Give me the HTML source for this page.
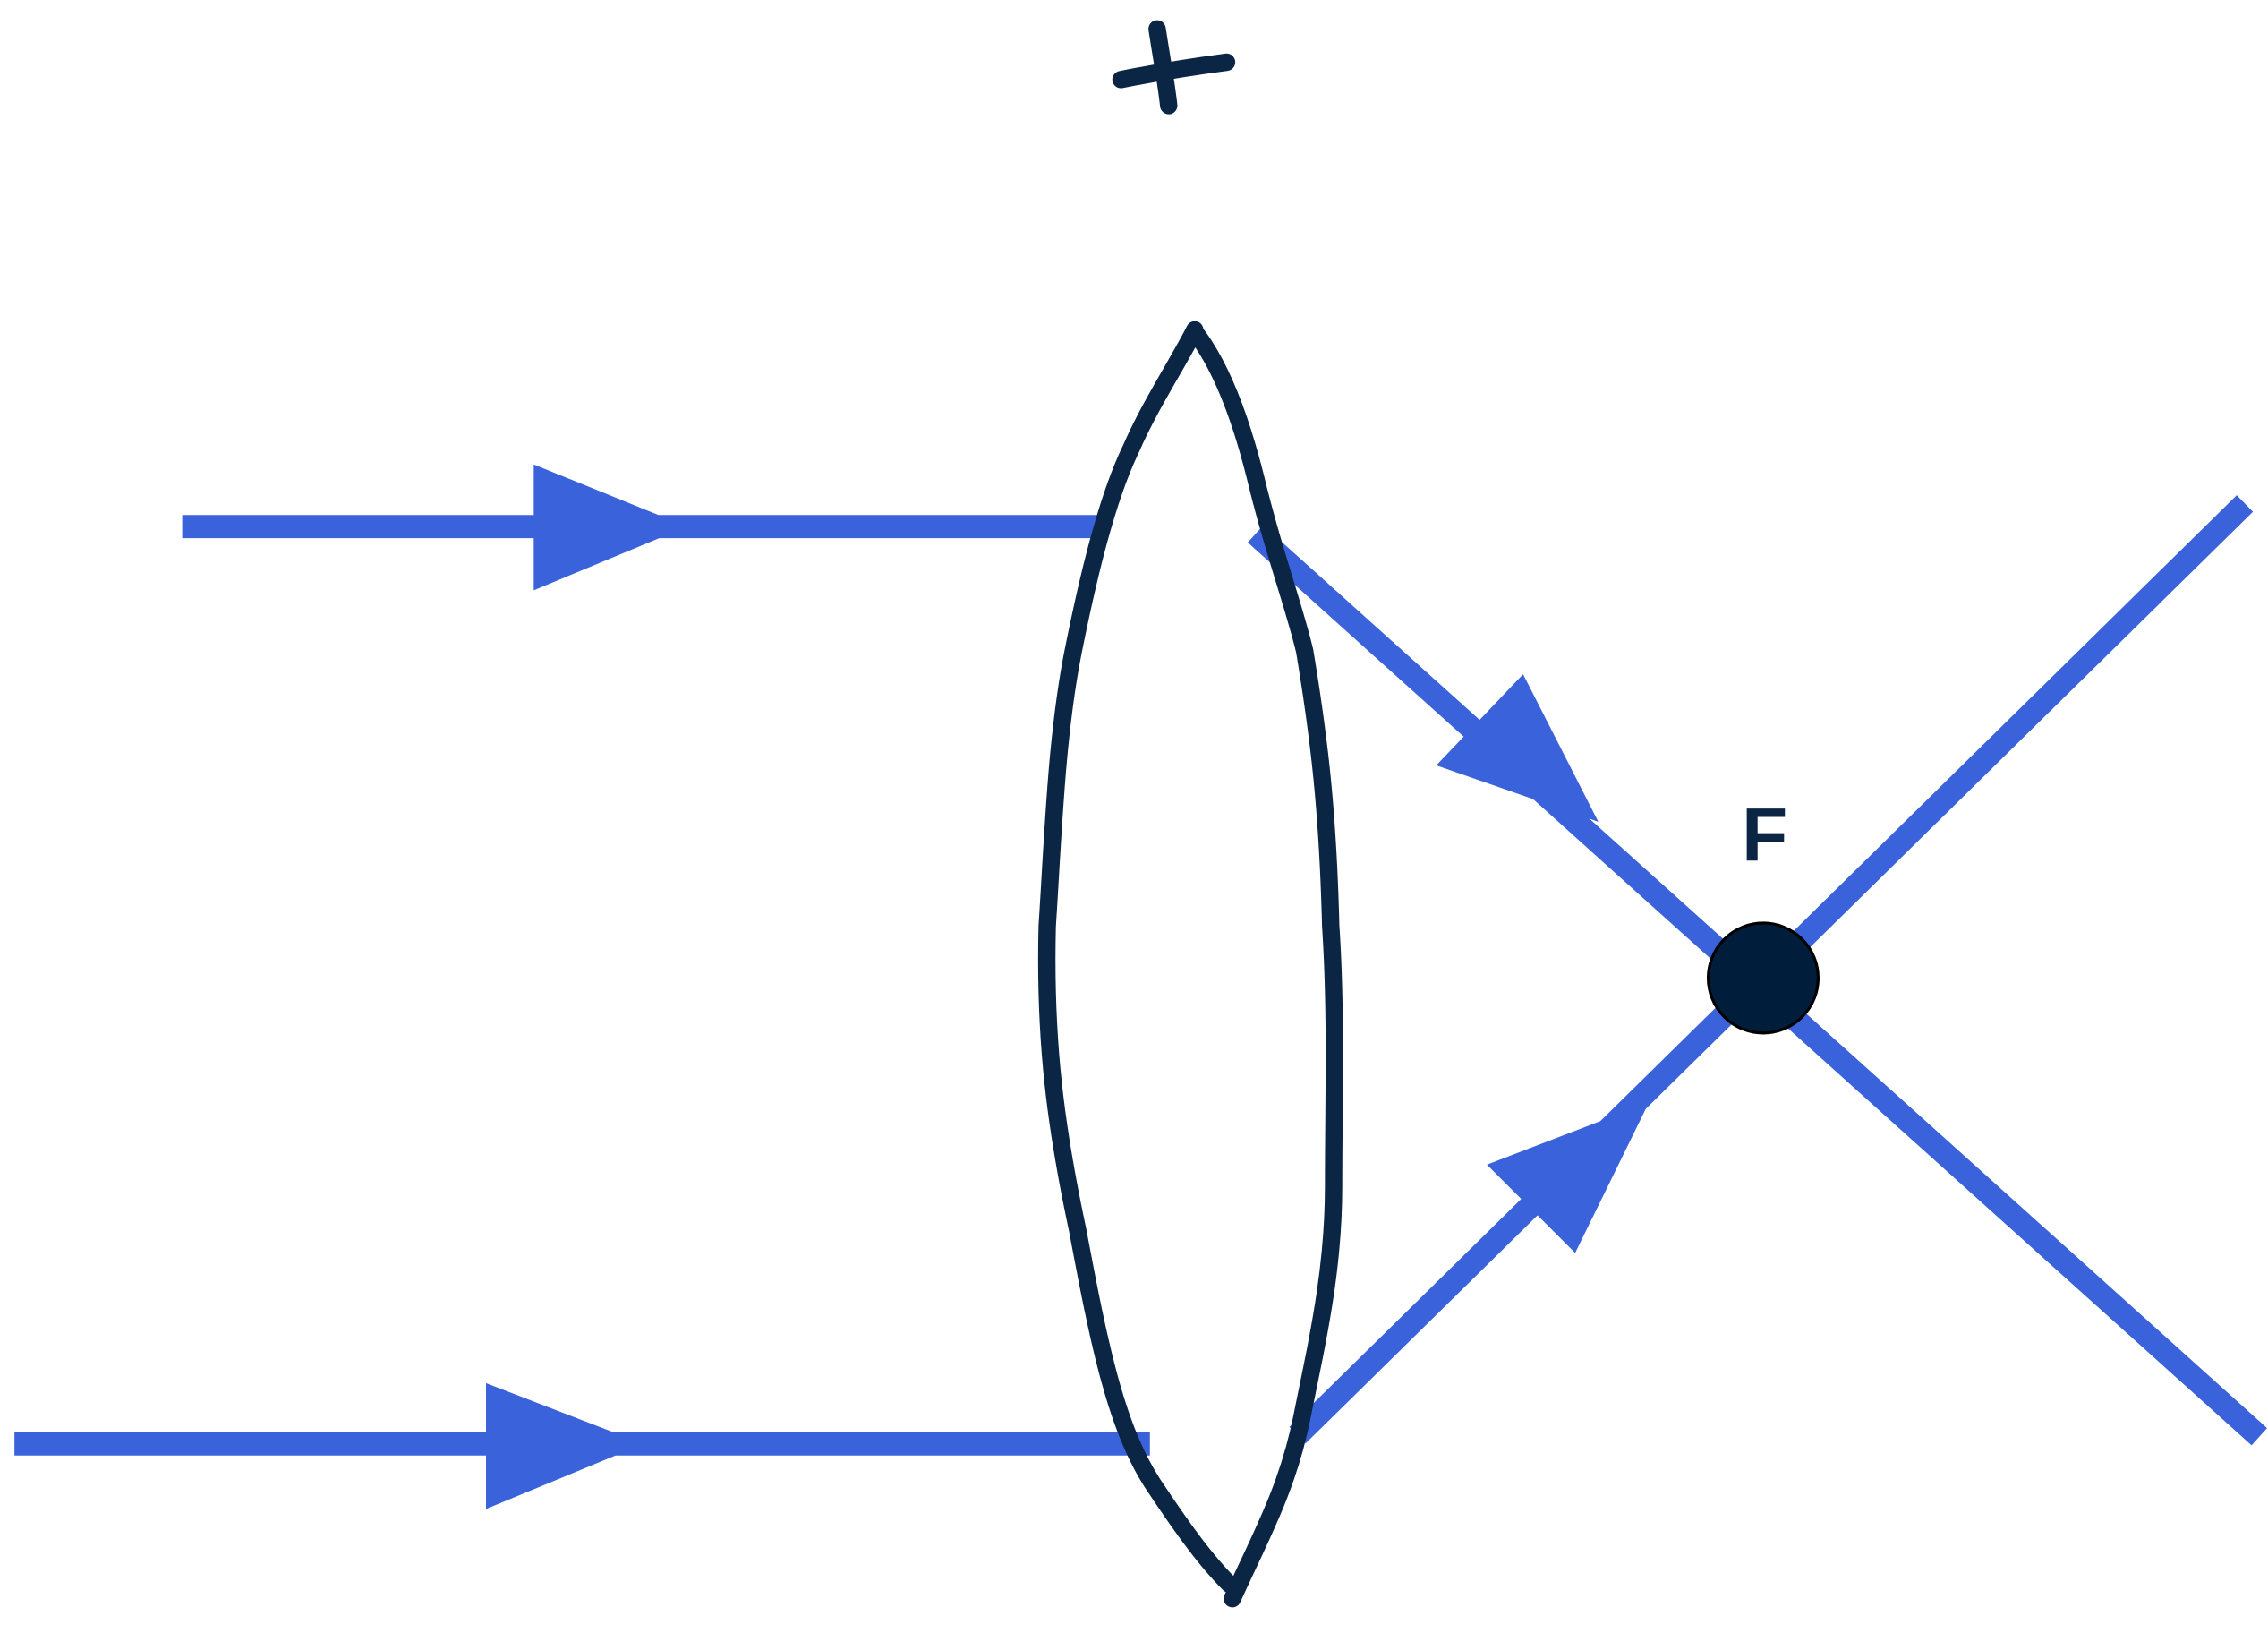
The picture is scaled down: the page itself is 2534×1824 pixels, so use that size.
<!DOCTYPE html>
<html><head><meta charset="utf-8"><style>html,body{margin:0;padding:0;background:#fff}svg{display:block}</style></head>
<body>
<svg width="2534" height="1824" viewBox="0 0 1568 1128.7" preserveAspectRatio="none" xmlns="http://www.w3.org/2000/svg">
<g stroke="#3a63db" stroke-width="16" fill="none">
<line x1="126" y1="364" x2="764" y2="364"/>
<line x1="10" y1="998" x2="795" y2="998"/>
<line x1="868" y1="369" x2="1562" y2="993"/>
<line x1="897" y1="992" x2="1552" y2="348"/>
</g>
<g fill="#3a63db">
<polygon points="369,321 369,408 475,364"/>
<polygon points="336,956 336,1043 445,998"/>
<polygon points="993,529 1053,466 1105,568"/>
<polygon points="1028,805 1089,866 1140,762"/>
</g>
<circle cx="1219" cy="676" r="38" fill="#001e3c" stroke="#000" stroke-width="2"/>
<text x="1220" y="595" font-family="Liberation Sans, sans-serif" font-size="52" font-weight="bold" fill="#0b2545" text-anchor="middle">F</text>
<g stroke="#0b2545" stroke-width="12" fill="none" stroke-linecap="round" stroke-linejoin="round">
<path d="M826,228 C815,250 795,280 782,310 C765,345 752,400 742,450 C730,510 728,580 724,640 C722,720 730,780 745,850 C760,930 772,990 800,1030 C820,1060 835,1080 850,1095"/>
<path d="M828,232 C845,255 858,290 868,330 C880,380 895,420 902,450 C912,510 918,560 920,640 C924,700 922,760 922,820 C922,880 910,930 900,980 C890,1030 870,1065 852,1105"/>
<path d="M775,55 C800,50 825,46 848,43"/>
<path d="M800,20 C803,40 806,55 808,73"/>
</g>
</svg>
</body></html>
